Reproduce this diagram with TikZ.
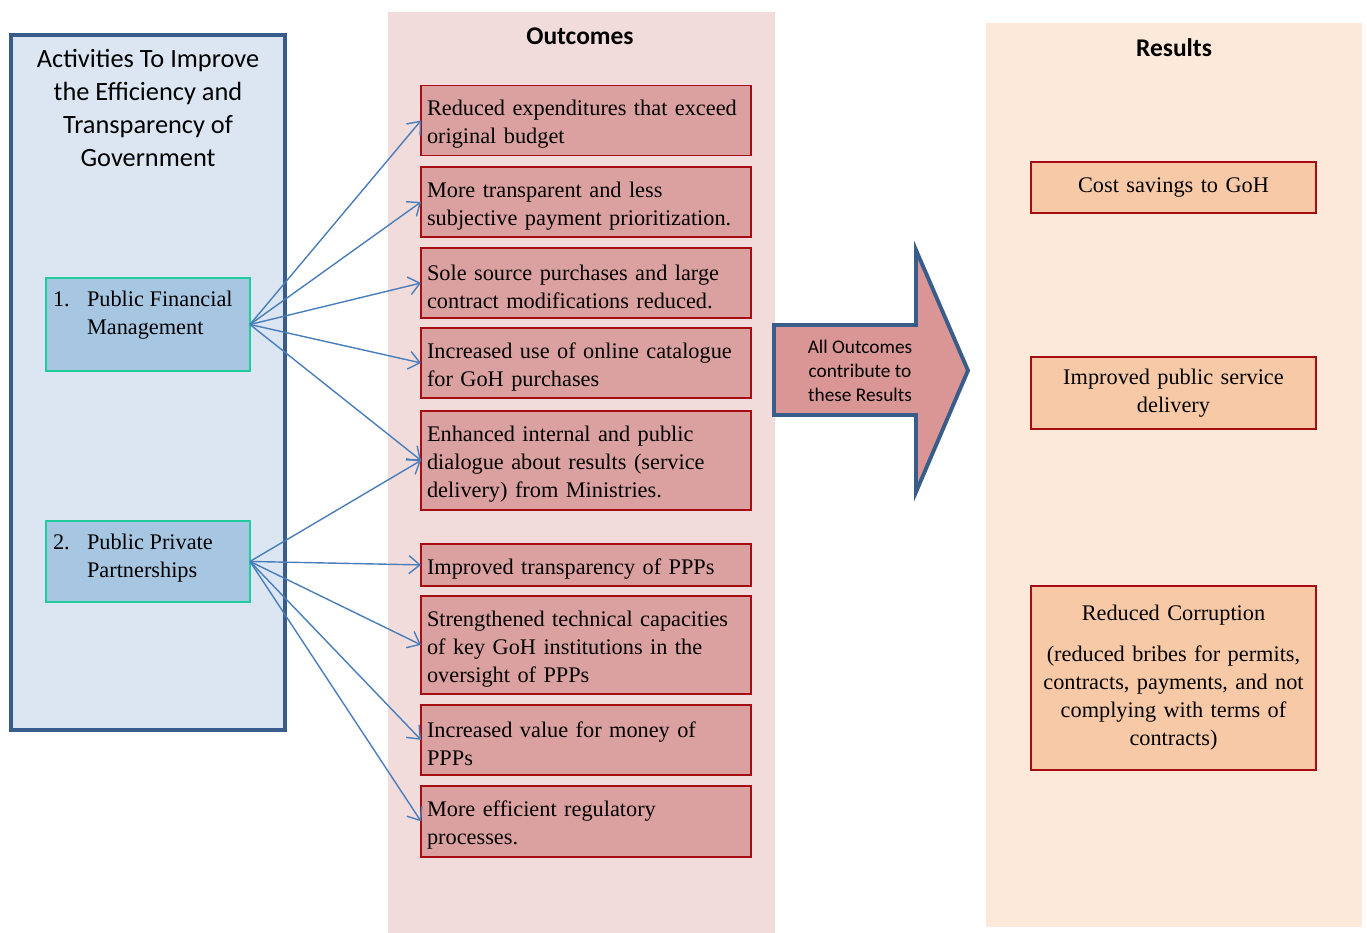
\documentclass[tikz,border=0pt]{standalone}
\usepackage{fontspec}
\setmainfont{Liberation Serif}
\newfontfamily\calfont{Carlito}
\usepackage{xcolor}
\definecolor{myblu1}{HTML}{DCE6F2}
\definecolor{myblu2}{HTML}{A7C6E2}
\definecolor{myblu3}{HTML}{385D8A}
\definecolor{myblu4}{HTML}{4A7EBB}
\definecolor{mygre1}{HTML}{20CC9C}
\definecolor{myros1}{HTML}{F2DCDB}
\definecolor{myros2}{HTML}{DBA1A0}
\definecolor{myros3}{HTML}{D99694}
\definecolor{myred1}{HTML}{A50D12}
\definecolor{myora1}{HTML}{FDE9D9}
\definecolor{myora2}{HTML}{F7C9A7}
\usepackage{tikz}
\usetikzlibrary{positioning}
\usetikzlibrary{arrows.meta}
\tikzstyle{panel} = [line width=2.2pt]
\tikzstyle{activity} = [rectangle, draw=mygre1, fill=myblu2, line width=1pt, outer sep=0pt, inner xsep=0.14cm, inner ysep=0.26cm, text=black, font=\fontsize{12.7}{15.9}\selectfont]
\tikzstyle{outcome} = [rectangle, minimum width=6.6cm, text width=6.36cm, align=left, outer sep=0pt, inner xsep=0.12cm, inner ysep=0pt, draw=myred1, fill=myros2, line width=1pt, text=black, font=\fontsize{12.7}{15.9}\selectfont, execute at begin node={\rule{0pt}{13.2pt}}]
\tikzstyle{result} = [rectangle, minimum width=5.7cm, text width=5.5cm, align=center, outer sep=0pt, inner xsep=0.1cm, inner ysep=0pt, draw=myred1, fill=myora2, line width=1pt, text=black, font=\fontsize{12.7}{15.9}\selectfont]
\tikzstyle{heading} = [font=\calfont\bfseries\fontsize{14.5}{17}\selectfont]
\tikzstyle{link} = [-{Straight Barb[length=0.22cm,width=0.36cm]}, line width=0.8pt, myblu4]

\begin{document}
\begin{tikzpicture}[x=0.02cm, y=-0.02cm]
	\useasboundingbox (0,0) rectangle (1367,933);
	% background panels
	\draw [panel, draw=myblu3, fill=myblu1] (11,35) rectangle (285,730);
	\fill [myros1] (388,12) rectangle (775,933);
	\fill [myora1] (986,23) rectangle (1362,927);
	% titles
	\node (acttitle) [align=center, font=\calfont\fontsize{15}{18.6}\selectfont] at (148,108) {Activities To Improve\\the Efficiency and\\Transparency of\\Government};
	\node (outtitle) [heading] at (580,36) {Outcomes};
	\node (restitle) [heading] at (1174,48) {Results};
	% activities
	\node (pfm) [activity] at (148,324.5) {\parbox[c][1.34cm][t]{3.8cm}{\makebox[0.68cm][l]{1.}Public Financial\\\hspace*{0.68cm}Management}};
	\node (ppp) [activity, below=3.0cm of pfm] {\parbox[c][1.1cm][t]{3.8cm}{\makebox[0.68cm][l]{2.}Public Private\\\hspace*{0.68cm}Partnerships}};
	% outcomes
	\node (o1) [outcome, minimum height=1.4cm] at (586,120.5) {Reduced expenditures that exceed\\original budget};
	\node (o2) [outcome, minimum height=1.4cm, below=0.23cm of o1] {More transparent and less\\subjective payment prioritization.};
	\node (o3) [outcome, minimum height=1.4cm, below=0.22cm of o2] {Sole source purchases and large\\contract modifications reduced.};
	\node (o4) [outcome, minimum height=1.4cm, below=0.2cm of o3] {Increased use of online catalogue\\for GoH purchases};
	\node (o5) [outcome, minimum height=1.98cm, below=0.26cm of o4] {Enhanced internal and public\\dialogue about results (service\\delivery) from Ministries.};
	\node (o6) [outcome, minimum height=0.84cm, below=0.68cm of o5] {Improved transparency of PPPs};
	\node (o7) [outcome, minimum height=1.96cm, below=0.2cm of o6] {Strengthened technical capacities\\of key GoH institutions in the\\oversight of PPPs};
	\node (o8) [outcome, minimum height=1.4cm, below=0.22cm of o7] {Increased value for money of\\PPPs};
	\node (o9) [outcome, minimum height=1.42cm, below=0.22cm of o8] {More efficient regulatory\\processes.};
	% big arrow
	\draw [panel, draw=myblu3, fill=myros3, line join=miter] (774,325) -- (916,325) -- (916,250) -- (968,370.5) -- (916,492) -- (916,415) -- (774,415) -- cycle;
	\node (allout) [align=center, font=\calfont\fontsize{11}{13.6}\selectfont] at (860,371) {All Outcomes\\contribute to\\these Results};
	% results
	\node (r1) [result, minimum height=1.02cm] at (1173.5,187.5) {Cost savings to GoH};
	\node (r2) [result, minimum height=1.44cm, below=2.88cm of r1] {Improved public service\\delivery};
	\node (r3) [result, minimum height=3.68cm, below=3.14cm of r2] {Reduced Corruption\\[0.26cm](reduced bribes for permits,\\contracts, payments, and not\\complying with terms of\\contracts)};
	% links
	\draw [link] (pfm.east) -- (o1.west);
	\draw [link] (pfm.east) -- (o2.west);
	\draw [link] (pfm.east) -- (o3.west);
	\draw [link] (pfm.east) -- (o4.west);
	\draw [link] (pfm.east) -- (o5.west);
	\draw [link] (ppp.east) -- (o5.west);
	\draw [link] (ppp.east) -- (o6.west);
	\draw [link] (ppp.east) -- (o7.west);
	\draw [link] (ppp.east) -- (o8.west);
	\draw [link] (ppp.east) -- (o9.west);
\end{tikzpicture}
\end{document}
